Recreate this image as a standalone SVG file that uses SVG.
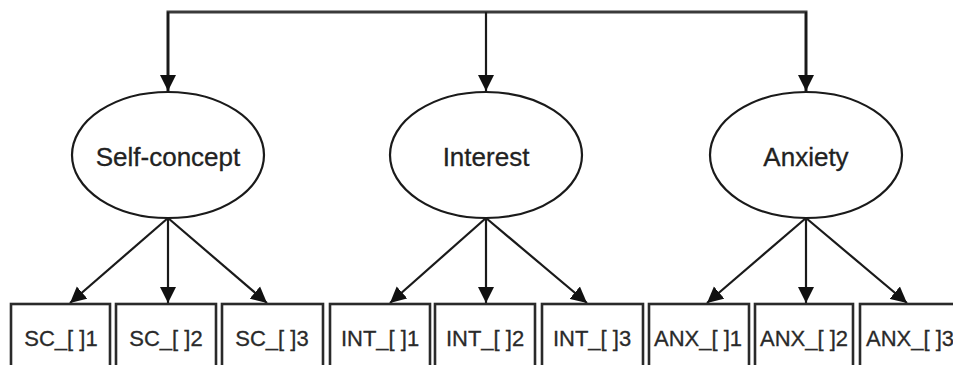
<svg xmlns="http://www.w3.org/2000/svg" width="953" height="365" viewBox="0 0 953 365">
  <style>
    .lat ellipse { fill: #fff; stroke: #1a1a1a; stroke-width: 2.2; }
    .lat text { font-family: "Liberation Sans", Arial, sans-serif; font-size: 26px; fill: #222; stroke: #222; stroke-width: 0.3; text-anchor: middle; }
    .ind rect { fill: #fff; stroke: #2a2a2a; stroke-width: 2.6; }
    .ind text { font-family: "Liberation Sans", Arial, sans-serif; font-size: 22px; fill: #2a2a2a; stroke: #2a2a2a; stroke-width: 0.3; text-anchor: middle; }
    .edge { fill: none; stroke: #1a1a1a; stroke-width: 2.2; marker-end: url(#arr); }
    .bus { fill: none; stroke: #3a3a3a; stroke-width: 3; }
  </style>
  <defs>
    <marker id="arr" viewBox="0 0 10 10" refX="10" refY="5" markerWidth="16" markerHeight="17" markerUnits="userSpaceOnUse" orient="auto">
      <path d="M0,0 L10,5 L0,10 Z" fill="#111"/>
    </marker>
  </defs>
  <rect width="953" height="365" fill="#fff"/>

  <g id="connectors">
    <path class="bus" d="M168,91 V12 H806 V91"/>
    <line class="edge" x1="168" y1="12" x2="168" y2="91"/>
    <line class="edge" x1="486" y1="12" x2="486" y2="91"/>
    <line class="edge" x1="806" y1="12" x2="806" y2="91"/>

    <line class="edge" x1="168" y1="218" x2="70" y2="303"/>
    <line class="edge" x1="168" y1="218" x2="168" y2="303"/>
    <line class="edge" x1="168" y1="218" x2="267" y2="303"/>

    <line class="edge" x1="486" y1="218" x2="390" y2="303"/>
    <line class="edge" x1="486" y1="218" x2="486" y2="303"/>
    <line class="edge" x1="486" y1="218" x2="587" y2="303"/>

    <line class="edge" x1="806" y1="218" x2="707" y2="303"/>
    <line class="edge" x1="806" y1="218" x2="806" y2="303"/>
    <line class="edge" x1="806" y1="218" x2="907" y2="303"/>
  </g>

  <g id="self-concept" class="lat">
    <ellipse cx="168" cy="155" rx="96" ry="63"/>
    <text x="168" y="166">Self-concept</text>
  </g>
  <g id="interest" class="lat">
    <ellipse cx="486" cy="155" rx="96" ry="63"/>
    <text x="486" y="166">Interest</text>
  </g>
  <g id="anxiety" class="lat">
    <ellipse cx="806" cy="155" rx="96" ry="63"/>
    <text x="806" y="166">Anxiety</text>
  </g>

  <g id="sc1" class="ind"><rect x="11" y="304" width="99" height="70"/><text x="61" y="346">SC_[ ]1</text></g>
  <g id="sc2" class="ind"><rect x="116" y="304" width="100" height="70"/><text x="166" y="346">SC_[ ]2</text></g>
  <g id="sc3" class="ind"><rect x="222" y="304" width="101" height="70"/><text x="272" y="346">SC_[ ]3</text></g>

  <g id="int1" class="ind"><rect x="330" y="304" width="100" height="70"/><text x="380" y="346">INT_[ ]1</text></g>
  <g id="int2" class="ind"><rect x="435" y="304" width="100" height="70"/><text x="485" y="346">INT_[ ]2</text></g>
  <g id="int3" class="ind"><rect x="542" y="304" width="101" height="70"/><text x="592" y="346">INT_[ ]3</text></g>

  <g id="anx1" class="ind"><rect x="649" y="304" width="100" height="70"/><text x="698" y="346">ANX_[ ]1</text></g>
  <g id="anx2" class="ind"><rect x="755" y="304" width="98" height="70"/><text x="804" y="346">ANX_[ ]2</text></g>
  <g id="anx3" class="ind"><rect x="860" y="304" width="100" height="70"/><text x="910" y="346">ANX_[ ]3</text></g>
</svg>
